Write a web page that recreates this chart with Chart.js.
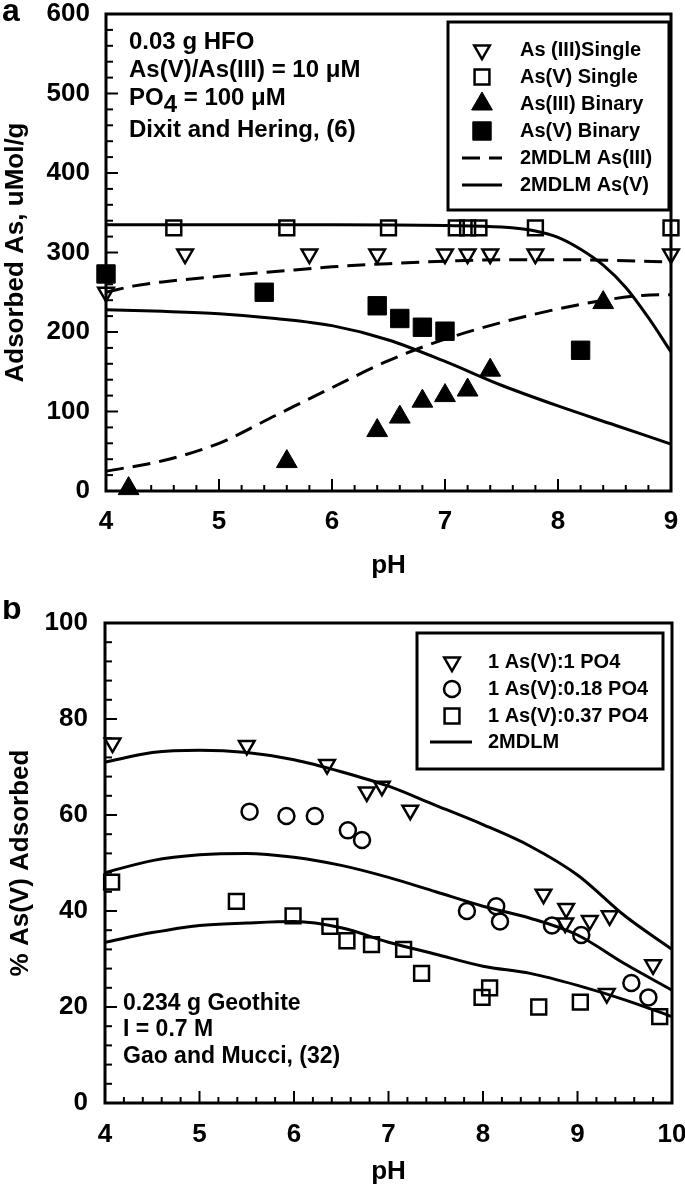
<!DOCTYPE html>
<html>
<head>
<meta charset="utf-8">
<script src="https://cdn.jsdelivr.net/npm/chart.js@4.4.1/dist/chart.umd.min.js"></script>
<style>
body { margin: 0; background: #fff; }
#wrapA { position: absolute; left: 0; top: 0; width: 685px; height: 600px; }
#wrapB { position: absolute; left: 0; top: 600px; width: 685px; height: 587px; }
</style>
</head>
<body>
<div id="wrapA"><canvas id="chartA"></canvas></div>
<div id="wrapB"><canvas id="chartB"></canvas></div>
<script>
var FONT = "'Liberation Sans', Arial, Helvetica, sans-serif"
Chart.defaults.font.family = FONT
Chart.defaults.font.weight = 'bold'
Chart.defaults.color = '#000'
Chart.defaults.animation = false

// ---- panel a : Dixit and Hering (HFO) ----
var xMajorA = [4, 5, 6, 7, 8, 9]
var yMajorA = [0, 100, 200, 300, 400, 500, 600]

var as3SingleX = [4.0, 4.7, 5.8, 6.4, 7.0, 7.2, 7.4, 7.8, 9.0]
var as3SingleY = [250, 298, 298, 298, 298, 298, 298, 298, 298]
var as5SingleX = [4.6, 5.6, 6.5, 7.1, 7.2, 7.3, 7.8, 9.0]
var as5SingleY = [331, 331, 331, 331, 331, 331, 331, 331]
var as3BinaryX = [4.2, 5.6, 6.4, 6.6, 6.8, 7.0, 7.2, 7.4, 8.4]
var as3BinaryY = [3, 37, 76, 93, 113, 120, 127, 152, 237]
var as5BinaryX = [4.0, 5.4, 6.4, 6.6, 6.8, 7.0, 8.2]
var as5BinaryY = [273, 250, 233, 217, 206, 201, 177]

var as3ModelHiX = [4.0, 4.25, 4.5, 5.0, 5.5, 6.0, 6.5, 7.0, 7.5, 8.0, 8.5, 9.0]
var as3ModelHiY = [250, 258, 263, 270, 276, 282, 286, 289, 291, 291, 290, 288]
var as3ModelLoX = [4.0, 4.5, 5.0, 5.5, 6.0, 6.5, 7.0, 7.5, 8.0, 8.5, 8.75, 9.0]
var as3ModelLoY = [25, 38, 60, 95, 130, 164, 191, 212, 229, 242, 246, 247]
var as5ModelHiX = [4.0, 5.0, 6.0, 7.0, 7.5, 7.8, 8.0, 8.2, 8.4, 8.6, 8.8, 9.0]
var as5ModelHiY = [335, 335, 335, 334, 332, 327, 319, 304, 284, 256, 218, 175]
var as5ModelLoX = [4.0, 4.5, 5.0, 5.5, 6.0, 6.5, 7.0, 7.5, 8.0, 8.5, 9.0]
var as5ModelLoY = [228, 226, 223, 217, 208, 190, 163, 133, 107, 83, 59]

// ---- panel b : Gao and Mucci (goethite) ----
var xMajorB = [4, 5, 6, 7, 8, 9, 10]
var yMajorB = [0, 20, 40, 60, 80, 100]

var ratio1X = [4.08, 5.5, 6.35, 6.77, 6.93, 7.23, 8.64, 8.88, 8.87, 9.13, 9.34, 9.8, 9.31]
var ratio1Y = [75, 74.5, 70.5, 64.8, 66, 61, 43.5, 40.5, 37.5, 38, 39, 28.8, 22.8]
var ratio018X = [5.53, 5.92, 6.22, 6.57, 6.72, 7.83, 8.14, 8.18, 8.73, 9.04, 9.57, 9.75]
var ratio018Y = [60.7, 59.8, 59.8, 56.8, 54.8, 40, 41, 37.8, 37, 35, 25, 22]
var ratio037X = [4.07, 5.39, 5.99, 6.38, 6.56, 6.82, 7.16, 7.35, 7.99, 8.07, 8.59, 9.03, 9.87]
var ratio037Y = [46, 42, 39, 36.8, 33.8, 33, 32, 27, 22, 24, 20, 21, 18]

var modelX = [4.0, 4.5, 5.0, 5.5, 6.0, 6.5, 7.0, 7.5, 8.0, 8.5, 9.0, 9.5, 10.0]
var model1Y = [71, 73, 73.5, 73, 71.5, 69, 66, 62, 58, 53.5, 47.5, 39, 32]
var model018Y = [48, 50.5, 51.7, 52, 51.2, 49.5, 47, 44, 41, 38.5, 35, 29, 23.5]
var model037Y = [33.5, 35.5, 37, 37.5, 37.8, 36.5, 33.5, 31, 28.5, 27, 24.5, 21.5, 18]

function pts(xs, ys) {
    return xs.map(function (x, i) { return { x: x, y: ys[i] } })
}

function isMajor(v, list) {
    return list.some(function (m) { return Math.abs(m - v) < 1e-6 })
}

var none = 'rgba(0,0,0,0)'

function openMarks(label, data, style, radius, rot) {
    return {
        label: label, data: data, showLine: false, clip: false,
        pointStyle: style, pointRadius: radius, rotation: rot || 0,
        backgroundColor: none, borderColor: '#000', borderWidth: 2.5
    }
}
function filledMarks(label, data, style, radius) {
    return {
        label: label, data: data, showLine: false, clip: false,
        pointStyle: style, pointRadius: radius,
        backgroundColor: '#000', borderColor: '#000', borderWidth: 1
    }
}
function model(label, data, dash) {
    return {
        label: label, data: data, showLine: true, clip: false,
        pointRadius: 0, borderColor: '#000', borderWidth: 3,
        borderDash: dash || [], cubicInterpolationMode: 'monotone',
        backgroundColor: none, fill: false
    }
}

// frame, inward ticks, legend box and notes
var decor = {
    id: 'decor',
    beforeDatasetsDraw: function (chart, args, o) {
        var ctx = chart.ctx, a = chart.chartArea
        ctx.save()
        ctx.strokeStyle = '#000'
        ctx.lineWidth = 3
        ctx.strokeRect(a.left, a.top, a.right - a.left, a.bottom - a.top)
        ctx.lineWidth = 2
        var xs = chart.scales.x, ys = chart.scales.y
        xs.ticks.forEach(function (t) {
            var px = xs.getPixelForValue(t.value)
            var len = t.label !== '' ? 12 : 6
            ctx.beginPath(); ctx.moveTo(px, a.bottom); ctx.lineTo(px, a.bottom - len); ctx.stroke()
        })
        ys.ticks.forEach(function (t) {
            var py = ys.getPixelForValue(t.value)
            var len = t.label !== '' ? 12 : 7
            ctx.beginPath(); ctx.moveTo(a.left, py); ctx.lineTo(a.left + len, py); ctx.stroke()
        })
        ctx.restore()
    },
    afterDatasetsDraw: function (chart, args, o) {
        var ctx = chart.ctx
        ctx.save()
        ctx.fillStyle = '#000'
        ctx.textBaseline = 'middle'
        ctx.textAlign = 'left'
        // panel letter
        ctx.font = 'bold 32px ' + FONT
        ctx.fillText(o.letter, 2, o.letterY)
        // notes
        ctx.font = 'bold ' + o.noteSize + 'px ' + FONT
        o.notes.forEach(function (line, i) {
            var x = o.noteX, y = o.noteY[i]
            line.forEach(function (seg) {
                if (seg.sub) {
                    ctx.font = 'bold ' + o.noteSize + 'px ' + FONT
                    ctx.fillText(seg.t, x, y + 7)
                } else {
                    ctx.font = 'bold ' + o.noteSize + 'px ' + FONT
                    ctx.fillText(seg.t, x, y)
                }
                x += ctx.measureText(seg.t).width
            })
        })
        // legend
        var L = o.legend
        ctx.strokeStyle = '#000'
        ctx.lineWidth = 3
        ctx.strokeRect(L.box[0], L.box[1], L.box[2] - L.box[0], L.box[3] - L.box[1])
        ctx.font = 'bold 20px ' + FONT
        L.items.forEach(function (idx, i) {
            var ds = chart.data.datasets[idx]
            var y = L.rowY[i]
            ctx.save()
            if (ds.showLine) {
                ctx.strokeStyle = ds.borderColor
                ctx.lineWidth = ds.borderWidth
                ctx.setLineDash(ds.borderDash || [])
                ctx.beginPath(); ctx.moveTo(L.lineX[0], y); ctx.lineTo(L.lineX[1], y); ctx.stroke()
            } else {
                ctx.fillStyle = ds.backgroundColor
                ctx.strokeStyle = ds.borderColor
                ctx.lineWidth = ds.borderWidth
                Chart.helpers.drawPoint(ctx, {
                    pointStyle: ds.pointStyle, rotation: ds.rotation || 0,
                    radius: ds.pointRadius, borderWidth: ds.borderWidth
                }, L.markX, y)
            }
            ctx.restore()
            ctx.fillText(ds.label, L.textX, y)
        })
        ctx.restore()
    }
}

function axes(xMin, xMax, xMajor, yMax, yStep, yMajor, sz) {
    return {
        x: {
            type: 'linear', min: xMin, max: xMax,
            grid: { display: false, drawTicks: false }, border: { display: false },
            ticks: {
                stepSize: 0.2, autoSkip: false, maxRotation: 0, padding: sz.xPad,
                font: { size: 26, weight: 'bold' },
                callback: function (v) { return isMajor(v, xMajor) ? String(Math.round(v)) : '' }
            },
            title: { display: true, text: 'pH', font: { size: 26, weight: 'bold' }, padding: { top: 0, bottom: sz.xTitlePad } },
            afterFit: function (s) { s.height = sz.xH; s.paddingLeft = 0; s.paddingRight = 0 }
        },
        y: {
            type: 'linear', min: 0, max: yMax,
            grid: { display: false, drawTicks: false }, border: { display: false },
            ticks: {
                stepSize: yStep, autoSkip: false, padding: sz.yPad,
                font: { size: 26, weight: 'bold' },
                callback: function (v) { return isMajor(v, yMajor) ? String(Math.round(v)) : '' }
            },
            title: { display: true, text: sz.yTitle, font: { size: 26, weight: 'bold' }, padding: { top: sz.yTitlePad, bottom: 0 } },
            afterFit: function (s) { s.width = sz.yW; s.paddingTop = 0; s.paddingBottom = 0 }
        }
    }
}

var chartA = new Chart(document.getElementById('chartA'), {
    type: 'scatter',
    data: {
        datasets: [
            openMarks('As (III)Single', pts(as3SingleX, as3SingleY), 'triangle', 9, 180),
            openMarks('As(V) Single', pts(as5SingleX, as5SingleY), 'rect', 10.5),
            filledMarks('As(III) Binary', pts(as3BinaryX, as3BinaryY), 'triangle', 12),
            filledMarks('As(V) Binary', pts(as5BinaryX, as5BinaryY), 'rect', 13),
            model('2MDLM As(III)', pts(as3ModelHiX, as3ModelHiY), [18, 9]),
            model('2MDLM As(V)', pts(as5ModelHiX, as5ModelHiY)),
            model('2MDLM As(III)', pts(as3ModelLoX, as3ModelLoY), [18, 9]),
            model('2MDLM As(V)', pts(as5ModelLoX, as5ModelLoY))
        ]
    },
    options: {
        responsive: true, maintainAspectRatio: false,
        layout: { padding: { top: 13, right: 14, left: 0, bottom: 0 } },
        events: [],
        scales: axes(4, 9, xMajorA, 600, 20, yMajorA,
            { xH: 109, xPad: 15, xTitlePad: 19, yW: 106, yPad: 16, yTitle: 'Adsorbed As, uMol/g', yTitlePad: 0 }),
        plugins: {
            legend: { display: false }, tooltip: { enabled: false },
            decor: {
                letter: 'a', letterY: 12,
                noteSize: 24, noteX: 129, noteY: [42, 70, 98, 130],
                notes: [
                    [{ t: '0.03 g HFO' }],
                    [{ t: 'As(V)/As(III) = 10 \u03bcM' }],
                    [{ t: 'PO' }, { t: '4', sub: true }, { t: ' = 100 \u03bcM' }],
                    [{ t: 'Dixit and Hering, (6)' }]
                ],
                legend: {
                    box: [448, 22, 669, 210], items: [0, 1, 2, 3, 4, 5],
                    rowY: [50, 77, 104, 131, 158, 185], markX: 482, textX: 520, lineX: [462, 502]
                }
            }
        }
    },
    plugins: [decor]
})

var chartB = new Chart(document.getElementById('chartB'), {
    type: 'scatter',
    data: {
        datasets: [
            openMarks('1 As(V):1 PO4', pts(ratio1X, ratio1Y), 'triangle', 9, 180),
            openMarks('1 As(V):0.18 PO4', pts(ratio018X, ratio018Y), 'circle', 8),
            openMarks('1 As(V):0.37 PO4', pts(ratio037X, ratio037Y), 'rect', 10.5),
            model('2MDLM', pts(modelX, model1Y)),
            model('2MDLM', pts(modelX, model018Y)),
            model('2MDLM', pts(modelX, model037Y))
        ]
    },
    options: {
        responsive: true, maintainAspectRatio: false,
        layout: { padding: { top: 23, right: 13, left: 0, bottom: 0 } },
        events: [],
        scales: axes(4, 10, xMajorB, 100, 4, yMajorB,
            { xH: 84, xPad: 16, xTitlePad: 0, yW: 105, yPad: 17, yTitle: '% As(V) Adsorbed', yTitlePad: 5 }),
        plugins: {
            legend: { display: false }, tooltip: { enabled: false },
            decor: {
                letter: 'b', letterY: 10,
                noteSize: 23, noteX: 123, noteY: [404, 430, 457],
                notes: [
                    [{ t: '0.234 g Geothite' }],
                    [{ t: 'I = 0.7 M' }],
                    [{ t: 'Gao and Mucci, (32)' }]
                ],
                legend: {
                    box: [417, 33, 663, 169], items: [0, 1, 2, 3],
                    rowY: [62, 89, 116, 142], markX: 452, textX: 488, lineX: [430, 472]
                }
            }
        }
    },
    plugins: [decor]
})
</script>
</body>
</html>
